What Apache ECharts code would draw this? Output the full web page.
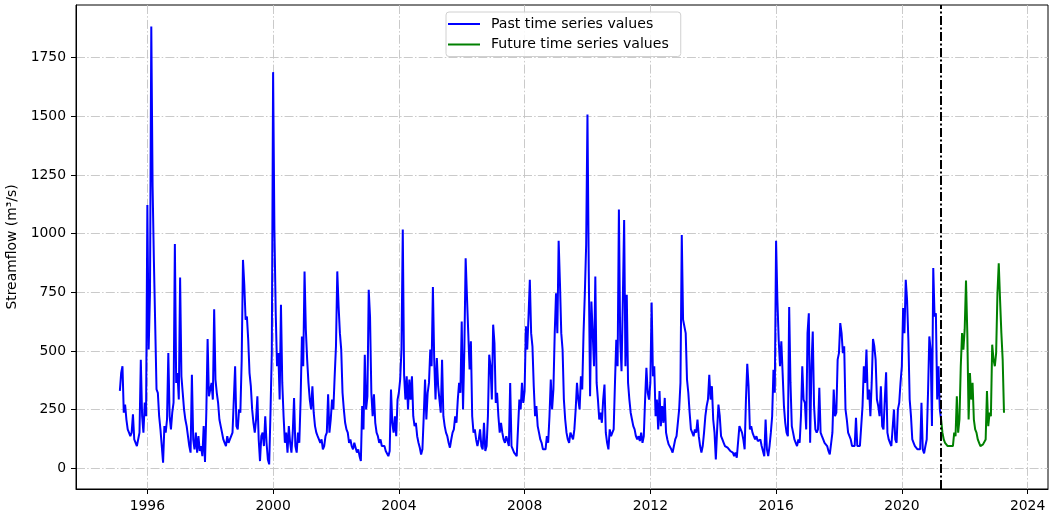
<!DOCTYPE html>
<html>
<head>
<meta charset="utf-8">
<script src="https://cdn.jsdelivr.net/npm/echarts@6/dist/echarts.min.js"></script>
<style>
html,body{margin:0;padding:0;background:#fff;}
#chart{width:1054px;height:519px;}
</style>
</head>
<body>
<div id="chart"></div>
<script>
// Semi-monthly samples (24 per year), value in m3/s
const stepsPerYear = 24;
const startIndex1995 = 3;
const y1995 = [330,406,435,237,272,208,166,152,137,152,230,123,116,95,88,152,463,222,152,280,222];
const y1996 = [1122,506,746,1882,1200,881,874,336,322,222,166,95,24,180,152,208,491,222,166,237,280,956,364,406];
const y1997 = [293,813,392,322,251,208,180,137,95,67,399,123,81,152,67,137,74,95,52,180,27,237,551,307];
const y1998 = [336,364,293,678,378,322,280,208,180,152,123,109,95,137,109,123,123,152,293,435,180,166,251,237];
const y1999 = [456,888,782,633,647,548,406,350,251,194,152,208,307,123,31,137,152,95,222,109,38,17,237,491];
const y2000 = [1688,1015,661,435,491,293,697,364,222,109,152,67,180,109,67,152,300,95,67,152,109,293,562,435];
const y2001 = [839,590,463,364,293,251,350,237,180,152,137,123,109,123,81,95,137,152,315,152,208,293,251,392];
const y2002 = [520,839,690,576,506,322,251,194,166,152,109,123,95,81,109,88,67,81,52,31,265,166,484,251];
const y2003 = [307,761,647,322,222,315,194,152,137,109,123,95,88,95,74,81,52,74,336,194,152,222,137,293];
const y2004 = [322,378,506,1018,399,293,392,251,378,293,392,222,180,194,137,109,88,59,81,222,378,208,322,364];
const y2005 = [506,435,772,463,293,470,350,293,237,463,222,180,152,137,109,88,123,152,166,222,194,293,364,322];
const y2006 = [626,251,506,895,732,576,421,541,222,152,166,123,95,123,166,95,81,194,74,95,222,484,435,293];
const y2007 = [612,534,279,322,222,152,194,152,123,109,137,116,95,364,95,81,67,59,52,50,293,251,364,279];
const y2008 = [329,605,506,647,803,576,520,350,222,265,180,152,123,109,81,88,81,137,109,222,378,251,336,576];
const y2009 = [746,576,970,789,576,506,293,208,152,123,109,152,137,123,166,251,364,293,251,392,336,576,746,952];
const y2010 = [1507,839,307,711,576,435,817,364,293,208,237,194,293,357,152,109,81,166,137,152,166,364,548,435];
const y2011 = [1103,548,414,718,1058,435,739,364,293,237,208,180,166,137,123,137,116,152,109,137,293,428,322,293];
const y2012 = [364,707,392,435,222,293,166,329,180,265,194,300,152,123,102,95,81,67,95,123,137,194,251,364];
const y2013 = [994,633,633,576,378,322,237,166,152,137,166,152,208,137,95,67,95,152,222,265,293,399,293,350];
const y2014 = [208,152,38,166,272,222,137,123,109,95,102,88,95,74,81,67,52,67,45,52,180,166,152,123];
const y2015 = [81,293,445,350,166,180,152,137,123,137,116,109,123,95,88,52,208,81,52,95,152,222,420,322];
const y2016 = [970,718,548,435,541,406,265,194,152,137,687,364,180,152,123,109,95,123,109,222,435,293,279,166];
const y2017 = [576,661,109,435,583,265,166,152,166,343,152,137,123,109,102,95,74,59,67,152,336,222,237,463];
const y2018 = [491,619,576,491,520,251,208,152,152,123,95,88,95,215,95,88,95,180,265,435,364,506,293,336];
const y2019 = [222,364,551,520,463,293,265,222,350,180,166,293,409,152,123,109,95,102,251,123,109,251,279,364];
const y2020 = [435,683,576,803,718,548,293,222,123,109,95,88,81,74,81,279,81,64,95,123,322,562,506,180];
const y2021past = [853,647,661,293,435,251,208];
const splitIndex2021 = 6;
const y2021future = [208,152,123,109,102,95,88,95,88,95,152,137,307,152,208,435,576,506];
const y2022 = [593,800,576,208,406,293,364,208,166,152,123,109,95,95,102,109,123,329,180,237,222,527,463,435];
const y2023 = [491,746,874,718,576,463,237];

const splitYear = 2021 + splitIndex2021 / stepsPerYear;
const yearTicks = [1996,2000,2004,2008,2012,2016,2020,2024];
const valueTicks = [0,250,500,750,1000,1250,1500,1750];

function toPoints(year, values, offset) {
  return values.map((v, i) => [year + (i + offset) / stepsPerYear, v]);
}

const pastBlocks = [
  [1995, y1995, startIndex1995],[1996, y1996, 0],[1997, y1997, 0],[1998, y1998, 0],[1999, y1999, 0],
  [2000, y2000, 0],[2001, y2001, 0],[2002, y2002, 0],[2003, y2003, 0],[2004, y2004, 0],
  [2005, y2005, 0],[2006, y2006, 0],[2007, y2007, 0],[2008, y2008, 0],[2009, y2009, 0],
  [2010, y2010, 0],[2011, y2011, 0],[2012, y2012, 0],[2013, y2013, 0],[2014, y2014, 0],
  [2015, y2015, 0],[2016, y2016, 0],[2017, y2017, 0],[2018, y2018, 0],[2019, y2019, 0],
  [2020, y2020, 0],[2021, y2021past, 0]
];
const futureBlocks = [[2021, y2021future, splitIndex2021],[2022, y2022, 0],[2023, y2023, 0]];

const pastData = [].concat(...pastBlocks.map(b => toPoints(b[0], b[1], b[2])));
const futureData = [].concat(...futureBlocks.map(b => toPoints(b[0], b[1], b[2])));

const FONT = 'DejaVu Sans';
const FS = 13.9;
const gridLine = { color: '#c4c4c4', width: 0.9, type: [9, 2.2, 1.5, 2.2] };

const chart = echarts.init(document.getElementById('chart'), null, { renderer: 'canvas' });
chart.setOption({
  animation: false,
  backgroundColor: '#fff',
  textStyle: { fontFamily: FONT },
  grid: { left: 76, right: 6, top: 5, bottom: 30, containLabel: false, outerBoundsMode: 'none', show: true, borderColor: '#000', borderWidth: 1, backgroundColor: 'transparent' },
  legend: {
    orient: 'vertical',
    left: 446,
    top: 12,
    padding: [5, 12, 5, 2],
    itemGap: 6.5,
    itemWidth: 32,
    itemHeight: 2,
    icon: 'rect',
    borderColor: '#d0d0d0',
    borderWidth: 1,
    borderRadius: 3,
    backgroundColor: 'rgba(255,255,255,0.85)',
    textStyle: { fontFamily: FONT, fontSize: 14.1, color: '#000', padding: [0, 0, 0, 6] },
    data: ['Past time series values', 'Future time series values']
  },
  xAxis: {
    type: 'value',
    min: 1993.73,
    max: 2024.65,
    axisLine: { show: true, onZero: false, lineStyle: { color: '#000', width: 1 } },
    axisTick: { show: true, length: 5, lineStyle: { color: '#000' }, customValues: yearTicks },
    axisLabel: { fontFamily: FONT, fontSize: FS, color: '#000', margin: 10, customValues: yearTicks, formatter: v => String(Math.round(v)) },
    splitLine: { show: true, lineStyle: gridLine }
  },
  yAxis: {
    type: 'value',
    min: -88,
    max: 1974,
    name: 'Streamflow (m³/s)',
    nameLocation: 'middle',
    nameGap: 51,
    nameRotate: 90,
    nameTextStyle: { fontFamily: FONT, fontSize: FS, color: '#000' },
    axisLine: { show: true, onZero: false, lineStyle: { color: '#000', width: 1 } },
    axisTick: { show: true, length: 5, lineStyle: { color: '#000' }, customValues: valueTicks },
    axisLabel: { fontFamily: FONT, fontSize: FS, color: '#000', margin: 10, customValues: valueTicks, formatter: v => String(Math.round(v)) },
    splitLine: { show: true, lineStyle: gridLine }
  },
  series: [
    {
      name: 'Past time series values',
      type: 'line',
      data: pastData,
      showSymbol: false,
      symbol: 'none',
      color: '#0000ff',
      lineStyle: { color: '#0000ff', width: 2 },
      z: 3,
      markLine: {
        silent: true,
        symbol: ['none', 'none'],
        label: { show: false },
        lineStyle: { color: '#000', width: 2, type: [9, 2.5, 2, 2.5] },
        data: [{ xAxis: splitYear }]
      }
    },
    {
      name: 'Future time series values',
      type: 'line',
      data: futureData,
      showSymbol: false,
      symbol: 'none',
      color: '#008000',
      lineStyle: { color: '#008000', width: 2 },
      z: 3
    }
  ]
});
</script>
</body>
</html>
